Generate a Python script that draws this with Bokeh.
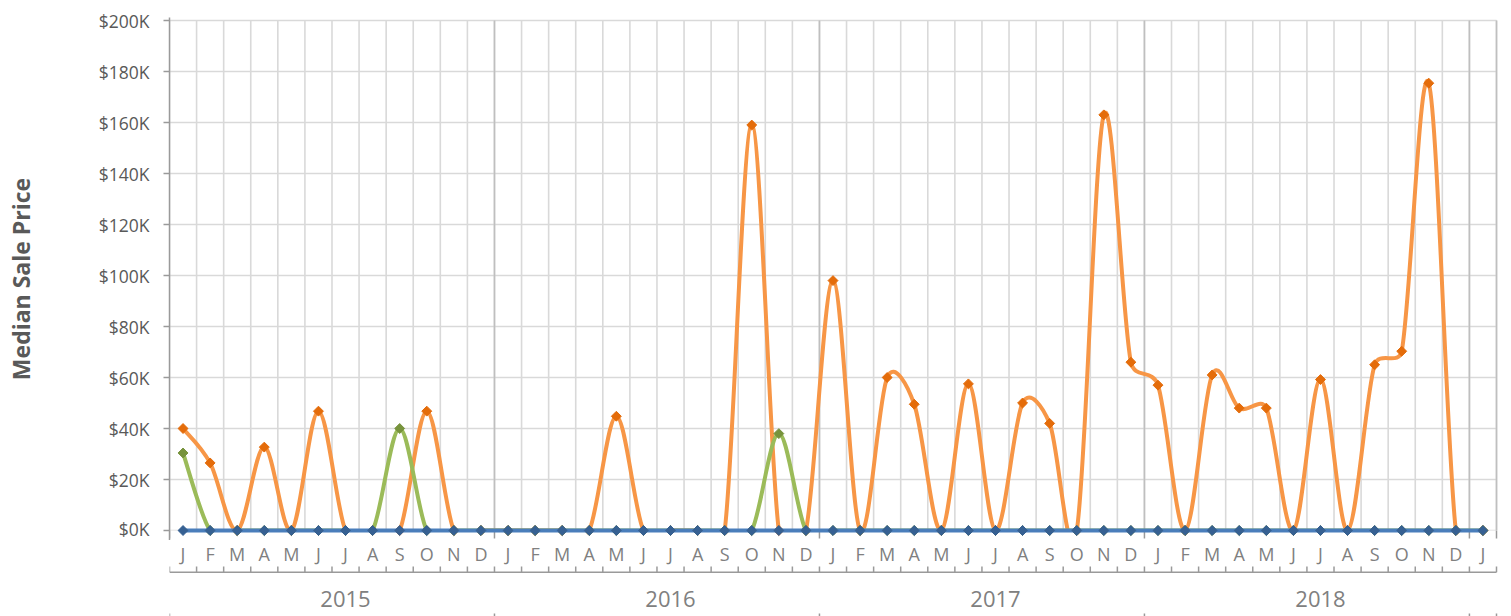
import numpy as np
from bokeh.plotting import figure
from bokeh.layouts import column
from bokeh.models import Range1d, FixedTicker
from bokeh.core.properties import value
from bokeh.embed import file_html
from bokeh.resources import INLINE

# ---------------- data ----------------
month_letters = ["J", "F", "M", "A", "M", "J", "J", "A", "S", "O", "N", "D"]
years = ["2015", "2016", "2017", "2018", "2019"]
months_in_year = [12, 12, 12, 12, 1]

orange_values = [40000, 26500, 0, 32700, 0, 46800, 0, 0, 0, 46800, 0, 0,
                 0, 0, 0, 0, 44800, 0, 0, 0, 0, 159000, 0, 0,
                 98000, 0, 60000, 49500, 0, 57500, 0, 50000, 42000, 0, 163000, 66000,
                 57000, 0, 61000, 48000, 48000, 0, 59200, 0, 65000, 70300, 175400, 0,
                 0]
green_values = [30400, 0, 0, 0, 0, 0, 0, 0, 40000, 0, 0, 0,
                0, 0, 0, 0, 0, 0, 0, 0, 0, 0, 38000, 0,
                0, 0, 0, 0, 0, 0, 0, 0, 0, 0, 0, 0,
                0, 0, 0, 0, 0, 0, 0, 0, 0, 0, 0, 0,
                0]
blue_values = [0, 0, 0, 0, 0, 0, 0, 0, 0, 0, 0, 0,
               0, 0, 0, 0, 0, 0, 0, 0, 0, 0, 0, 0,
               0, 0, 0, 0, 0, 0, 0, 0, 0, 0, 0, 0,
               0, 0, 0, 0, 0, 0, 0, 0, 0, 0, 0, 0,
               0]

y_ticks = [0, 20000, 40000, 60000, 80000, 100000, 120000, 140000, 160000, 180000, 200000]
y_tick_labels = ["$0K", "$20K", "$40K", "$60K", "$80K", "$100K", "$120K",
                 "$140K", "$160K", "$180K", "$200K"]

# categories (year, month)
categories = []
for yr, n in zip(years, months_in_year):
    for m in month_letters[:n]:
        categories.append((yr, m))
N = len(categories)
xs = np.arange(N, dtype=float)
bounds = np.arange(N + 1) - 0.5
year_starts = np.cumsum([0] + months_in_year)
year_bounds = year_starts - 0.5
full_years = [(yr, s, n) for yr, s, n in zip(years, year_starts[:-1], months_in_year) if n == 12]

# ---------------- styling ----------------
FONT_NAME = "Open Sans"
FONT = value(FONT_NAME)
GRID = "#d9d9d9"
GRID_DARK = "#bfbfbf"
AXIS = "#9a9a9a"
TXT = "#595959"
TXT2 = "#808080"

W = 1511
LEFT = 169
RIGHT = W - 1499
PX = 200000 / 510.0          # dollars per pixel
XPX = 1327 / 49.0            # pixels per category

def smooth(x, y):
    """Excel-style smoothed line: cubic Bezier per segment, tension 1/6,
    control distance capped at half the segment length (in pixels)."""
    x = np.asarray(x, float)
    y = np.asarray(y, float)
    xp = np.concatenate([[x[0]], x, [x[-1]]])
    yp = np.concatenate([[y[0]], y, [y[-1]]])
    n = len(x)
    p0x, p0y = xp[0:n - 1], yp[0:n - 1]
    p1x, p1y = xp[1:n], yp[1:n]
    p2x, p2y = xp[2:n + 1], yp[2:n + 1]
    p3x, p3y = xp[3:n + 2], yp[3:n + 2]

    def d(ax, ay, bx, by):
        return np.hypot((bx - ax) * XPX, (by - ay) / PX)

    d02 = d(p0x, p0y, p2x, p2y)
    d13 = d(p1x, p1y, p3x, p3y)
    d12 = d(p1x, p1y, p2x, p2y)
    with np.errstate(divide="ignore", invalid="ignore"):
        f1 = np.where(d02 > 0, np.minimum(1 / 6.0, 0.5 * d12 / d02), 0.0)
        f2 = np.where(d13 > 0, np.minimum(1 / 6.0, 0.5 * d12 / d13), 0.0)
    return dict(
        x0=p1x, y0=p1y, x1=p2x, y1=p2y,
        cx0=p1x + (p2x - p0x) * f1, cy0=p1y + (p2y - p0y) * f1,
        cx1=p2x - (p3x - p1x) * f2, cy1=p2y - (p3y - p1y) * f2,
    )

# ---------------- main plot ----------------
p = figure(width=W, height=540,
           x_range=Range1d(-0.5, 48.5 + 3 / XPX),
           y_range=Range1d(-10 * PX, 200000 + 3 * PX),
           x_axis_type=None,
           output_backend="svg", toolbar_location=None,
           min_border_left=LEFT, min_border_right=RIGHT,
           min_border_top=17, min_border_bottom=0)
p.outline_line_color = None
p.grid.visible = False
p.background_fill_color = "white"

# gridlines
p.segment(x0=-0.5, y0=y_ticks, x1=48.5, y1=y_ticks, line_color=GRID, line_width=1.6)
p.segment(x0=bounds, y0=0, x1=bounds, y1=200000, line_color=GRID, line_width=1.6)
p.segment(x0=year_bounds[1:], y0=0, x1=year_bounds[1:], y1=200000, line_color=GRID_DARK, line_width=1.6)

# smoothed series lines
p.bezier(line_color="#F79646", line_width=4, line_cap="round", **smooth(xs, orange_values))
p.bezier(line_color="#9BBB59", line_width=4, line_cap="round", **smooth(xs, green_values))

# clip area below the zero line (like the chart's plot area)
p.quad(left=-1, right=50, bottom=-20 * PX, top=0, fill_color="white", line_color=None)

# year boundary ticks below axis
p.segment(x0=year_bounds, y0=0, x1=year_bounds, y1=-8 * PX, line_color=AXIS, line_width=1.5)

MS = 7
p.scatter(xs, orange_values, marker="square", angle=np.pi / 4, size=MS,
          fill_color="#E46C0A", line_color="#E46C0A", line_width=1)
p.scatter(xs, green_values, marker="square", angle=np.pi / 4, size=MS,
          fill_color="#77933C", line_color="#77933C", line_width=1)
p.bezier(line_color="#4A7EBB", line_width=4, line_cap="round", **smooth(xs, blue_values))
p.scatter(xs, blue_values, marker="square", angle=np.pi / 4, size=MS,
          fill_color="#366092", line_color="#366092", line_width=1)

ya = p.yaxis[0]
ya.ticker = FixedTicker(ticks=y_ticks, minor_ticks=[])
ya.major_label_overrides = {t: l for t, l in zip(y_ticks, y_tick_labels)}
ya.axis_line_color = AXIS
ya.axis_line_width = 1.5
ya.major_tick_line_color = AXIS
ya.major_tick_line_width = 1.5
ya.major_tick_out = 6
ya.major_tick_in = 0
ya.minor_tick_out = 0
ya.minor_tick_in = 0
ya.major_label_standoff = 14
ya.major_label_text_font = FONT_NAME
ya.major_label_text_font_size = "17.5px"
ya.major_label_text_color = TXT
ya.axis_label = "Median Sale Price"
ya.axis_label_text_font = FONT_NAME
ya.axis_label_text_font_size = "23px"
ya.axis_label_text_font_style = "bold"
ya.axis_label_text_color = TXT
ya.axis_label_standoff = 59

# ---------------- category axis (two levels) ----------------
b = figure(width=W, height=76,
           x_range=p.x_range, y_range=Range1d(86, 10),
           x_axis_type=None, y_axis_type=None,
           output_backend="svg", toolbar_location=None,
           min_border_left=LEFT, min_border_right=RIGHT,
           min_border_top=0, min_border_bottom=0)
b.outline_line_color = None
b.grid.visible = False

b.text(x=xs, y=23, text=[m for _, m in categories], text_align="center",
       text_baseline="middle", text_font=FONT, text_font_size="18px", text_color=TXT2)
b.segment(x0=-0.5, y0=41.7, x1=48.5, y1=41.7, line_color=AXIS, line_width=1.5)
b.segment(x0=bounds, y0=41.7, x1=bounds, y1=36, line_color=AXIS, line_width=1.5)
b.segment(x0=year_bounds, y0=83, x1=year_bounds, y1=90, line_color=AXIS, line_width=1.5)
b.text(x=[s + n / 2 for _, s, n in full_years], y=68,
       text=[yr for yr, _, _ in full_years], text_align="center", text_baseline="middle",
       text_font=FONT, text_font_size="22px", text_color=TXT2)

layout = column(p, b, spacing=0)
open("out.html", "w").write(file_html(layout, INLINE))
